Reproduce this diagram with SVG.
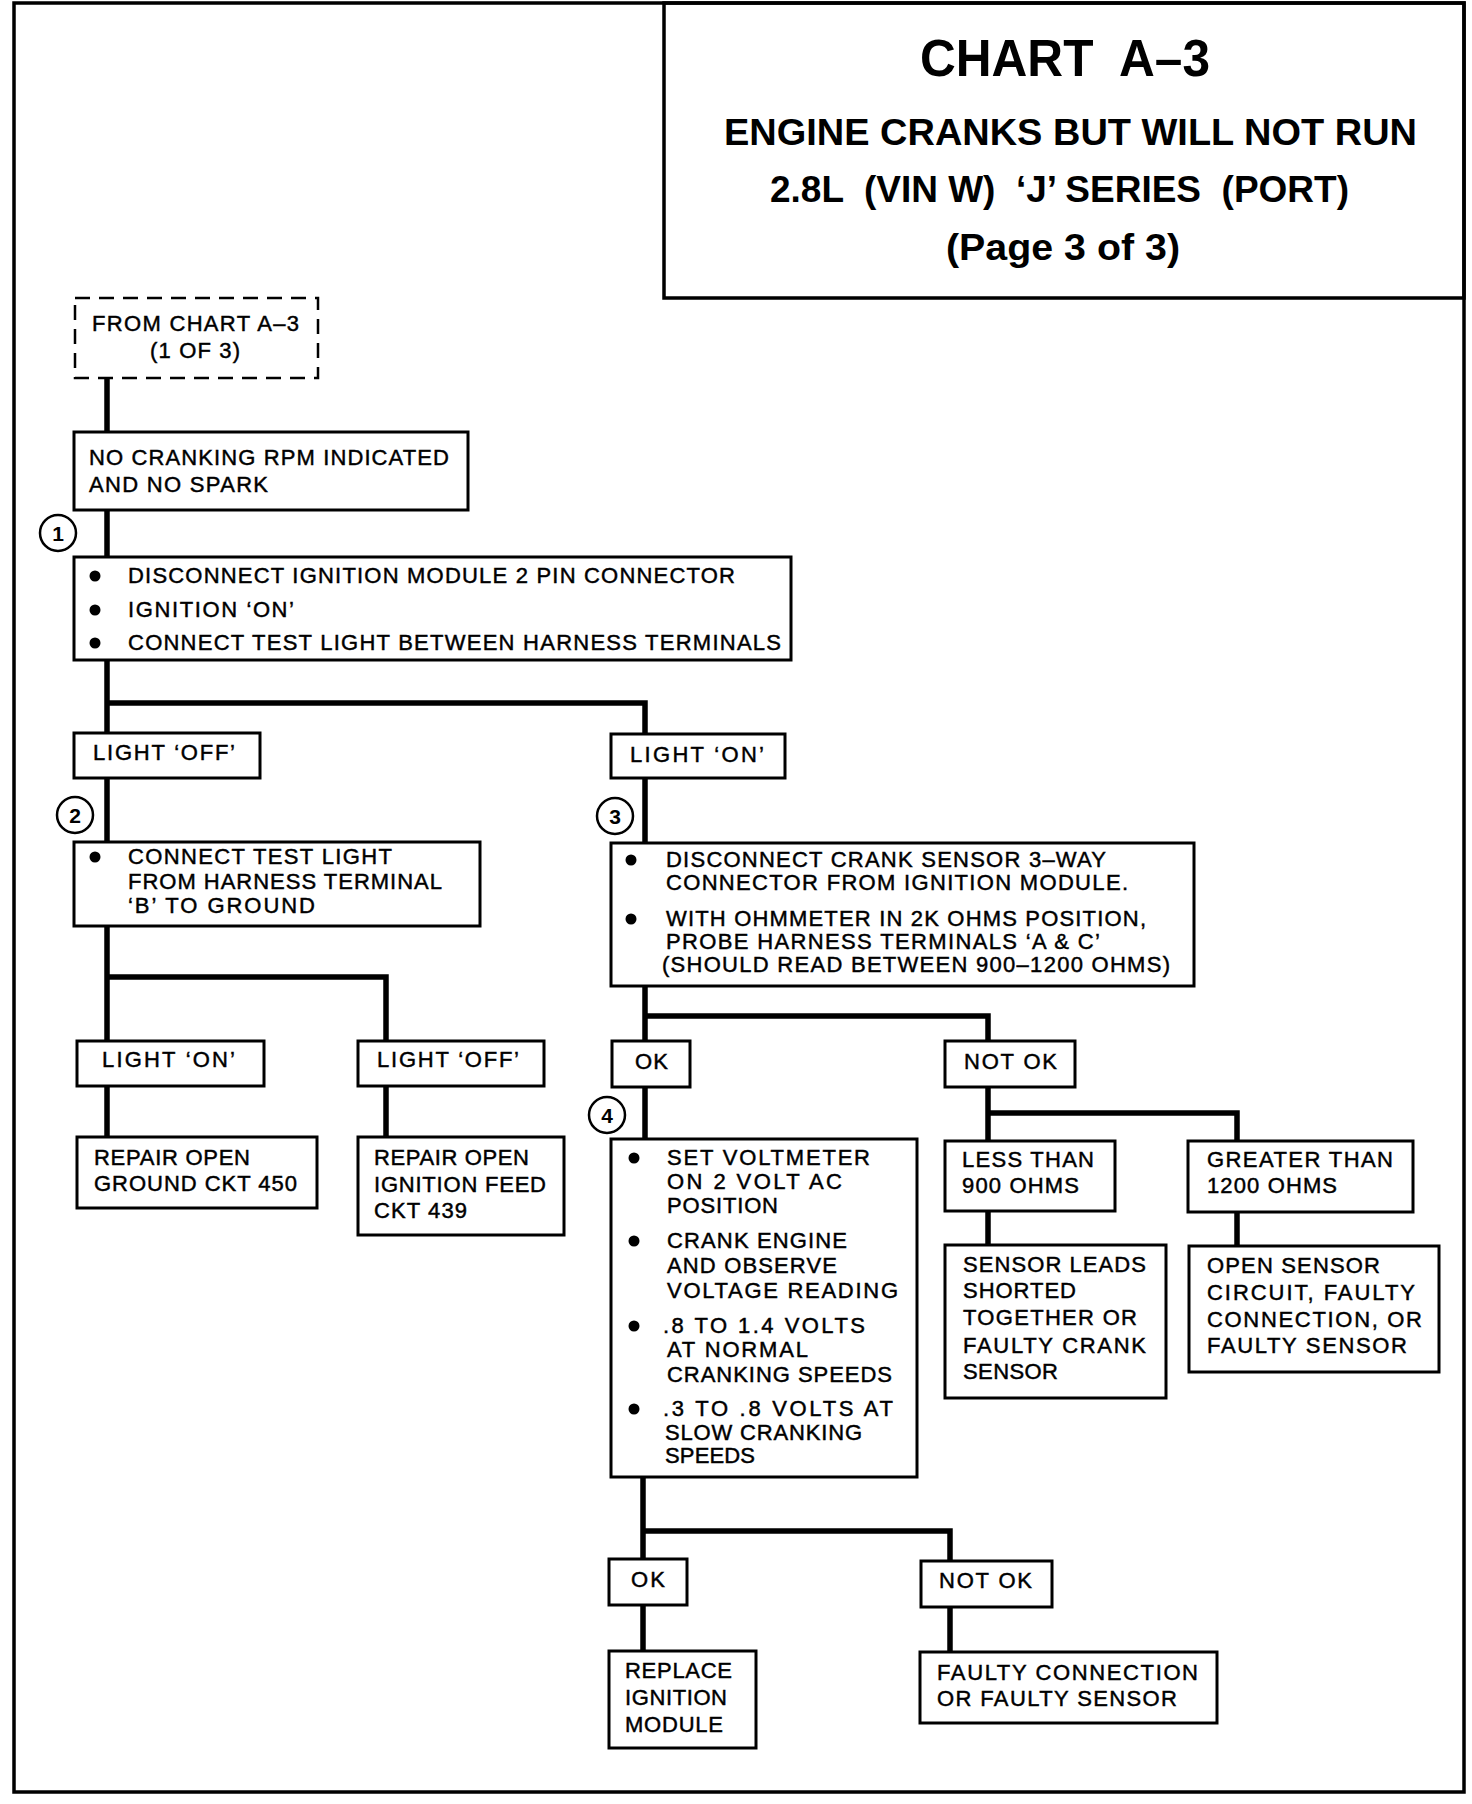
<svg xmlns="http://www.w3.org/2000/svg" width="1472" height="1804" viewBox="0 0 1472 1804">
<style>
.b{fill:#fff;stroke:#000;stroke-width:3}
.d{fill:#fff;stroke:#000;stroke-width:2.5;stroke-dasharray:15 9}
.c{fill:none;stroke:#000;stroke-width:5.5;stroke-linejoin:miter;stroke-linecap:square}
.t{font-family:"Liberation Sans",Arial,Helvetica,sans-serif;font-size:22px;fill:#000;stroke:#000;stroke-width:0.45}
.h{font-family:"Liberation Sans",Arial,Helvetica,sans-serif;font-weight:bold;fill:#000}
.n{fill:#fff;stroke:#000;stroke-width:2.5}
.nt{font-family:"Liberation Sans",Arial,Helvetica,sans-serif;font-size:21px;font-weight:bold;fill:#000;text-anchor:middle}
.u{fill:#000}
</style>
<rect width="1472" height="1804" fill="#fff"/>
<rect x="14" y="3" width="1450" height="1789" fill="none" stroke="#000" stroke-width="3.5"/>
<g id="title">
<rect x="664" y="3" width="800" height="295" fill="none" stroke="#000" stroke-width="3.5"/>
<text class="h" x="920" y="76" font-size="52" textLength="290" lengthAdjust="spacingAndGlyphs" xml:space="preserve">CHART  A–3</text>
<text class="h" x="724" y="145" font-size="37" textLength="693" lengthAdjust="spacingAndGlyphs">ENGINE CRANKS BUT WILL NOT RUN</text>
<text class="h" x="770" y="202" font-size="36" textLength="579" lengthAdjust="spacingAndGlyphs" xml:space="preserve">2.8L  (VIN W)  ‘J’ SERIES  (PORT)</text>
<text class="h" x="946" y="260" font-size="36" textLength="234" lengthAdjust="spacingAndGlyphs">(Page 3 of 3)</text>
</g>
<g id="connectors">
<path class="c" d="M107,379 V432 M107,510 V557 M107,660 V733 M107,703 H645 V734 M107,778 V842 M645,778 V843 M107,926 V1041 M107,977 H386 V1041 M107,1086 V1137 M386,1086 V1137 M645,986 V1041 M645,1016 H988 V1041 M645,1087 V1139 M988,1087 V1141 M988,1113 H1237 V1141 M988,1211 V1245 M1237,1212 V1246 M643,1477 V1559 M643,1531 H950 V1561 M643,1605 V1651 M950,1607 V1652"/>
</g>
<g id="n-from">
<rect class="d" x="75" y="298" width="243" height="80"/>
<text class="t" x="92" y="331" textLength="207">FROM CHART A–3</text>
<text class="t" x="150" y="358" textLength="90">(1 OF 3)</text>
</g>
<g id="n-nocrank">
<rect class="b" x="74" y="432" width="394" height="78"/>
<text class="t" x="89" y="465" textLength="360">NO CRANKING RPM INDICATED</text>
<text class="t" x="89" y="492" textLength="179">AND NO SPARK</text>
</g>
<g id="m1"><circle class="n" cx="58" cy="533" r="18"/><text class="nt" x="58" y="541">1</text></g>
<g id="n-step1">
<rect class="b" x="74" y="557" width="717" height="103"/>
<circle class="u" cx="95" cy="576" r="5.5"/><circle class="u" cx="95" cy="610" r="5.5"/><circle class="u" cx="95" cy="643" r="5.5"/>
<text class="t" x="128" y="583" textLength="607">DISCONNECT IGNITION MODULE 2 PIN CONNECTOR</text>
<text class="t" x="128" y="617" textLength="166">IGNITION ‘ON’</text>
<text class="t" x="128" y="650" textLength="653">CONNECT TEST LIGHT BETWEEN HARNESS TERMINALS</text>
</g>
<g id="n-off1"><rect class="b" x="74" y="733" width="186" height="45"/><text class="t" x="93" y="760" textLength="142">LIGHT ‘OFF’</text></g>
<g id="n-on1"><rect class="b" x="611" y="734" width="174" height="44"/><text class="t" x="630" y="762" textLength="134">LIGHT ‘ON’</text></g>
<g id="m2"><circle class="n" cx="75" cy="815" r="18"/><text class="nt" x="75" y="823">2</text></g>
<g id="m3"><circle class="n" cx="615" cy="816" r="18"/><text class="nt" x="615" y="824">3</text></g>
<g id="n-step2">
<rect class="b" x="74" y="842" width="406" height="84"/>
<circle class="u" cx="95" cy="857" r="5.5"/>
<text class="t" x="128" y="864" textLength="264">CONNECT TEST LIGHT</text>
<text class="t" x="128" y="889" textLength="314">FROM HARNESS TERMINAL</text>
<text class="t" x="128" y="913" textLength="187">‘B’ TO GROUND</text>
</g>
<g id="n-step3">
<rect class="b" x="611" y="843" width="583" height="143"/>
<circle class="u" cx="631" cy="860" r="5.5"/><circle class="u" cx="631" cy="919" r="5.5"/>
<text class="t" x="666" y="867" textLength="440">DISCONNECT CRANK SENSOR 3–WAY</text>
<text class="t" x="666" y="890" textLength="462">CONNECTOR FROM IGNITION MODULE.</text>
<text class="t" x="666" y="926" textLength="480">WITH OHMMETER IN 2K OHMS POSITION,</text>
<text class="t" x="666" y="949" textLength="434">PROBE HARNESS TERMINALS ‘A &amp; C’</text>
<text class="t" x="662" y="972" textLength="508">(SHOULD READ BETWEEN 900–1200 OHMS)</text>
</g>
<g id="n-on2"><rect class="b" x="77" y="1041" width="187" height="45"/><text class="t" x="102" y="1067" textLength="133">LIGHT ‘ON’</text></g>
<g id="n-off2"><rect class="b" x="358" y="1041" width="186" height="45"/><text class="t" x="377" y="1067" textLength="142">LIGHT ‘OFF’</text></g>
<g id="n-repair1">
<rect class="b" x="77" y="1137" width="240" height="71"/>
<text class="t" x="94" y="1165" textLength="156">REPAIR OPEN</text>
<text class="t" x="94" y="1191" textLength="203">GROUND CKT 450</text>
</g>
<g id="n-repair2">
<rect class="b" x="358" y="1137" width="206" height="98"/>
<text class="t" x="374" y="1165" textLength="155">REPAIR OPEN</text>
<text class="t" x="374" y="1192" textLength="172">IGNITION FEED</text>
<text class="t" x="374" y="1218" textLength="93">CKT 439</text>
</g>
<g id="n-ok1"><rect class="b" x="612" y="1041" width="78" height="46"/><text class="t" x="635" y="1069" textLength="33">OK</text></g>
<g id="n-notok1"><rect class="b" x="945" y="1041" width="130" height="46"/><text class="t" x="964" y="1069" textLength="93">NOT OK</text></g>
<g id="m4"><circle class="n" cx="607" cy="1115" r="18"/><text class="nt" x="607" y="1123">4</text></g>
<g id="n-step4">
<rect class="b" x="611" y="1139" width="306" height="338"/>
<circle class="u" cx="634" cy="1158" r="5.5"/><circle class="u" cx="634" cy="1241" r="5.5"/><circle class="u" cx="634" cy="1326" r="5.5"/><circle class="u" cx="634" cy="1409" r="5.5"/>
<text class="t" x="667" y="1165" textLength="203">SET VOLTMETER</text>
<text class="t" x="667" y="1189" textLength="175">ON 2 VOLT AC</text>
<text class="t" x="667" y="1213" textLength="111">POSITION</text>
<text class="t" x="667" y="1248" textLength="180">CRANK ENGINE</text>
<text class="t" x="667" y="1273" textLength="170">AND OBSERVE</text>
<text class="t" x="667" y="1298" textLength="231">VOLTAGE READING</text>
<text class="t" x="663" y="1333" textLength="202">.8 TO 1.4 VOLTS</text>
<text class="t" x="667" y="1357" textLength="141">AT NORMAL</text>
<text class="t" x="667" y="1382" textLength="225">CRANKING SPEEDS</text>
<text class="t" x="663" y="1416" textLength="230">.3 TO .8 VOLTS AT</text>
<text class="t" x="665" y="1440" textLength="197">SLOW CRANKING</text>
<text class="t" x="665" y="1463" textLength="90">SPEEDS</text>
</g>
<g id="n-less">
<rect class="b" x="945" y="1141" width="170" height="70"/>
<text class="t" x="962" y="1167" textLength="132">LESS THAN</text>
<text class="t" x="962" y="1193" textLength="117">900 OHMS</text>
</g>
<g id="n-greater">
<rect class="b" x="1188" y="1141" width="225" height="71"/>
<text class="t" x="1207" y="1167" textLength="186">GREATER THAN</text>
<text class="t" x="1207" y="1193" textLength="130">1200 OHMS</text>
</g>
<g id="n-shorted">
<rect class="b" x="945" y="1245" width="221" height="153"/>
<text class="t" x="963" y="1272" textLength="183">SENSOR LEADS</text>
<text class="t" x="963" y="1298" textLength="113">SHORTED</text>
<text class="t" x="963" y="1325" textLength="174">TOGETHER OR</text>
<text class="t" x="963" y="1353" textLength="183">FAULTY CRANK</text>
<text class="t" x="963" y="1379" textLength="95">SENSOR</text>
</g>
<g id="n-open">
<rect class="b" x="1189" y="1246" width="250" height="126"/>
<text class="t" x="1207" y="1273" textLength="173">OPEN SENSOR</text>
<text class="t" x="1207" y="1300" textLength="208">CIRCUIT, FAULTY</text>
<text class="t" x="1207" y="1327" textLength="215">CONNECTION, OR</text>
<text class="t" x="1207" y="1353" textLength="200">FAULTY SENSOR</text>
</g>
<g id="n-ok2"><rect class="b" x="609" y="1559" width="78" height="46"/><text class="t" x="631" y="1587" textLength="34">OK</text></g>
<g id="n-notok2"><rect class="b" x="921" y="1561" width="131" height="46"/><text class="t" x="939" y="1588" textLength="93">NOT OK</text></g>
<g id="n-replace">
<rect class="b" x="609" y="1651" width="147" height="97"/>
<text class="t" x="625" y="1678" textLength="107">REPLACE</text>
<text class="t" x="625" y="1705" textLength="102">IGNITION</text>
<text class="t" x="625" y="1732" textLength="98">MODULE</text>
</g>
<g id="n-faulty">
<rect class="b" x="920" y="1652" width="297" height="71"/>
<text class="t" x="937" y="1680" textLength="261">FAULTY CONNECTION</text>
<text class="t" x="937" y="1706" textLength="240">OR FAULTY SENSOR</text>
</g>
</svg>
